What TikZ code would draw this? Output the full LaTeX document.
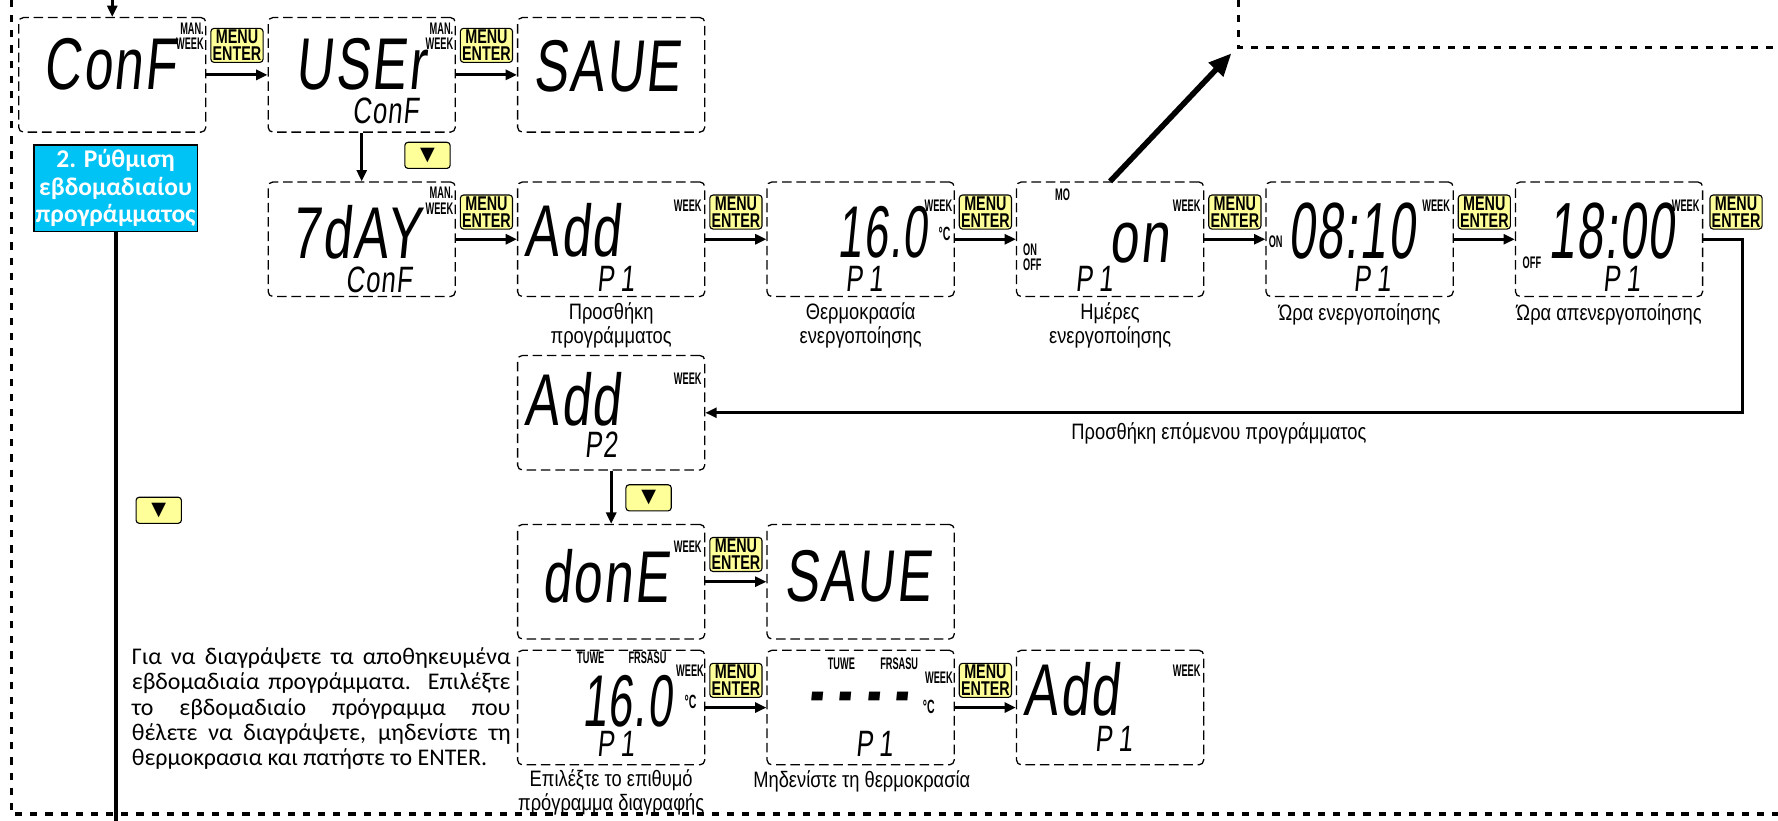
\documentclass[tikz,border=0pt]{standalone}
\usepackage{fontspec}
\setmainfont{Carlito}
\newfontfamily\lcdfont[FakeSlant=0.1,FakeStretch=0.7,LetterSpace=3]{Liberation Sans}
\newfontfamily\digfont[FakeSlant=0.1,FakeStretch=0.6,LetterSpace=2]{Liberation Sans}
\newfontfamily\narrowfont[FakeStretch=0.82]{Liberation Sans}
\newfontfamily\keyfont[FakeStretch=0.72]{Liberation Sans}
\newfontfamily\tagfont[FakeStretch=0.55]{Liberation Sans}
\newfontfamily\symfont{DejaVu Sans}
\usetikzlibrary{arrows.meta,positioning}
\definecolor{keyyellow}{HTML}{FFFF99}
\definecolor{stepblue}{HTML}{00C3F5}
\tikzset{lcd/.style={draw,rounded corners=3pt,dash pattern=on 6pt off 3pt,line width=0.8pt,
  minimum width=4.125cm,minimum height=2.525cm},
  key/.style={draw,fill=keyyellow,rounded corners=2pt,line width=0.7pt,minimum width=1.15cm,
  minimum height=0.75cm,inner sep=0pt,align=center,font=\keyfont\bfseries\fontsize{12.5}{10.5}\selectfont},
  downkey/.style={draw,fill=keyyellow,rounded corners=2pt,line width=0.7pt,minimum width=1cm,
  minimum height=0.575cm,inner sep=0pt,font=\symfont\fontsize{12}{12}\selectfont},
  flow/.style={-{Triangle[length=2.5mm,width=2.2mm]},line width=2pt},
  big/.style={font=\lcdfont\fontsize{46}{46}\selectfont,inner sep=0pt},
  digits/.style={font=\digfont\fontsize{46}{46}\selectfont,inner sep=0pt},
  small/.style={font=\lcdfont\fontsize{23}{23}\selectfont,inner sep=0pt},
  tag/.style={font=\tagfont\bfseries\fontsize{10.5}{9.5}\selectfont,inner sep=0pt,align=right,anchor=north east},
  ltag/.style={font=\tagfont\bfseries\fontsize{10.5}{9.5}\selectfont,inner sep=0pt,align=left},
  captxt/.style={font=\narrowfont\fontsize{14}{15}\selectfont,inner sep=0pt,align=center},
  frame/.style={line width=2.1pt,dash pattern=on 4.5pt off 5pt}}
\begin{document}
\begin{tikzpicture}[x=0.025cm,y=-0.025cm]
 \useasboundingbox (0,0) rectangle (1568,724);
 \draw[frame] (10,0) -- (10,718) -- (1568,718);
 \draw[frame] (1092,0) -- (1092,42) -- (1568,42);

 % first row
 \node[lcd] (conf) at (99,66) {};
 \node[big] (conf-t) at (97,57) {ConF};
 \node[tag] (conf-m) at (180,20) {MAN.\\WEEK};
 \node[lcd] (user) at (319,66) {};
 \node[big] (user-t) at (318,57) {USEr};
 \node[small] (user-s) at (340,98) {ConF};
 \node[tag] (user-m) at (400,20) {MAN.\\WEEK};
 \node[lcd] (saue) at (539,66) {};
 \node[big] (saue-t) at (535,58) {SAUE};
 \node[key] (k1) at (209,40) {MENU\\ENTER};
 \node[key] (k2) at (429,40) {MENU\\ENTER};
 \coordinate (in) at (99,0);
 \draw[flow] (in) -- (conf);
 \draw[flow] (conf) -- (user);
 \draw[flow] (user) -- (saue);

 % step box
 \node[draw,fill=stepblue,line width=0.8pt,minimum width=3.4cm,minimum height=1.9cm,inner sep=1pt,
   align=center,text=white,font=\bfseries\fontsize{16}{17.2}\selectfont] (step2) at (102,166)
   {2. Ρύθμιση\\εβδομαδιαίου\\προγράμματος};
 \coordinate (bot) at (102,724);
 \draw[line width=2.5pt] (step2) -- (bot);
 \node[downkey] (d3) at (140,450) {▼};

 % second row
 \node[lcd] (day) at (319,211) {};
 \node[big] (day-t) at (314,205) {7dAY};
 \node[small] (day-s) at (334,247) {ConF};
 \node[tag] (day-m) at (400,165) {MAN.\\WEEK};
 \node[downkey] (d1) at (377,137) {▼};
 \draw[flow] (user) -- (day);

 \node[lcd] (add) at (539,211) {};
 \node[big] (add-t) at (505,203) {Add};
 \node[small] (add-p) at (543,246) {P\,1};
 \node[tag] (add-w) at (619,176) {WEEK};

 \node[lcd] (temp) at (759,211) {};
 \node[digits] (temp-t) at (778,205) {16.0};
 \node[ltag] (temp-c) at (833,206) {\fontsize{12}{12}\selectfont°C};
 \node[small] (temp-p) at (762,246) {P\,1};
 \node[tag] (temp-w) at (840,176) {WEEK};

 \node[lcd] (days) at (979,211) {};
 \node[ltag] (days-d) at (937,172) {MO};
 \node[big] (days-t) at (1005,214) {on};
 \node[small] (days-p) at (965,246) {P\,1};
 \node[ltag,anchor=west] (days-o) at (902,227) {ON\\OFF};
 \node[tag] (days-w) at (1059,176) {WEEK};

 \node[lcd] (ton) at (1199,211) {};
 \node[digits,font=\digfont\fontsize{50}{50}\selectfont] (ton-t) at (1192,204) {08:10};
 \node[ltag] (ton-o) at (1125,213) {ON};
 \node[small] (ton-p) at (1210,246) {P\,1};
 \node[tag] (ton-w) at (1279,176) {WEEK};

 \node[lcd] (toff) at (1419,211) {};
 \node[digits,font=\digfont\fontsize{50}{50}\selectfont] (toff-t) at (1421,204) {18:00};
 \node[ltag] (toff-o) at (1351,232) {OFF};
 \node[small] (toff-p) at (1430,246) {P\,1};
 \node[tag] (toff-w) at (1499,176) {WEEK};

 \node[key] (k3) at (429,187) {MENU\\ENTER};
 \node[key] (k4) at (649,187) {MENU\\ENTER};
 \node[key] (k5) at (869,187) {MENU\\ENTER};
 \node[key] (k6) at (1089,187) {MENU\\ENTER};
 \node[key] (k7) at (1309,187) {MENU\\ENTER};
 \node[key] (k8) at (1531,187) {MENU\\ENTER};
 \draw[flow] (day) -- (add);
 \draw[flow] (add) -- (temp);
 \draw[flow] (temp) -- (days);
 \draw[flow] (days) -- (ton);
 \draw[flow] (ton) -- (toff);
 \coordinate (corner) at (1086,47);
 \draw[-{Triangle[length=5mm,width=4.2mm]},line width=3.5pt] (days.north) -- (corner);

 \node[captxt] (add-c) at (539,287) {Προσθήκη\\προγράμματος};
 \node[captxt] (temp-c2) at (759,287) {Θερμοκρασία\\ενεργοποίησης};
 \node[captxt] (days-c) at (979,287) {Ημέρες\\ενεργοποίησης};
 \node[captxt] (ton-c) at (1199,277) {Ώρα ενεργοποίησης};
 \node[captxt] (toff-c) at (1419,277) {Ώρα απενεργοποίησης};

 % next program
 \node[lcd] (p2) at (539,364) {};
 \node[big] (p2-t) at (505,352) {Add};
 \node[small] (p2-p) at (530,392) {P2};
 \node[tag] (p2-w) at (619,329) {WEEK};
 \coordinate (ret) at (1537,364);
 \draw[flow] (toff.east) -| (ret) -- (p2.east);
 \node[captxt] (ret-c) at (1075,382) {Προσθήκη επόμενου προγράμματος};

 % done
 \node[lcd] (done) at (539,513) {};
 \node[big] (done-t) at (534,508) {donE};
 \node[tag] (done-w) at (619,477) {WEEK};
 \node[lcd] (save) at (759,513) {};
 \node[big] (save-t) at (756,508) {SAUE};
 \node[downkey] (d2) at (572,439) {▼};
 \node[key] (k9) at (649,489) {MENU\\ENTER};
 \draw[flow] (p2) -- (done);
 \draw[flow] (done) -- (save);

 % delete
 \node[font=\fontsize{15}{15.8}\selectfont,text width=8.35cm,align=justify,inner sep=0pt,anchor=north west]
   (note) at (116,571) {Για να διαγράψετε τα αποθηκευμένα\linebreak εβδομαδιαία προγράμματα. Επιλέξτε\linebreak
   το εβδομαδιαίο πρόγραμμα που\linebreak θέλετε να διαγράψετε, μηδενίστε τη\linebreak
   θερμοκρασια και πατήστε το ENTER.};
 \node[lcd] (del) at (539,624) {};
 \node[ltag] (del-a) at (521,580) {TUWE};
 \node[ltag] (del-b) at (571,580) {FRSASU};
 \node[digits] (del-t) at (553,618) {16.0};
 \node[ltag] (del-c) at (609,619) {\fontsize{12}{12}\selectfont°C};
 \node[small] (del-p) at (543,656) {P\,1};
 \node[tag] (del-w) at (621,586) {WEEK};
 \node[lcd] (zero) at (759,624) {};
 \node[ltag] (zero-a) at (742,585) {TUWE};
 \node[ltag] (zero-b) at (793,585) {FRSASU};
 \node[ltag] (zero-w) at (828,598) {WEEK};
 \node[digits,font=\digfont\bfseries\fontsize{46}{46}\selectfont] (zero-t) at (757,621) {- - - -};
 \node[ltag] (zero-c) at (819,623) {\fontsize{12}{12}\selectfont°C};
 \node[small] (zero-p) at (771,656) {P\,1};
 \node[lcd] (again) at (979,624) {};
 \node[big] (again-t) at (945,608) {Add};
 \node[small] (again-p) at (982,652) {P\,1};
 \node[tag] (again-w) at (1059,586) {WEEK};
 \node[key] (k10) at (649,600) {MENU\\ENTER};
 \node[key] (k11) at (869,600) {MENU\\ENTER};
 \draw[flow] (del) -- (zero);
 \draw[flow] (zero) -- (again);
 \node[captxt] (del-c2) at (539,699) {Επιλέξτε το επιθυμό\\πρόγραμμα διαγραφής};
 \node[captxt] (zero-c2) at (760,689) {Μηδενίστε τη θερμοκρασία};
\end{tikzpicture}
\end{document}
